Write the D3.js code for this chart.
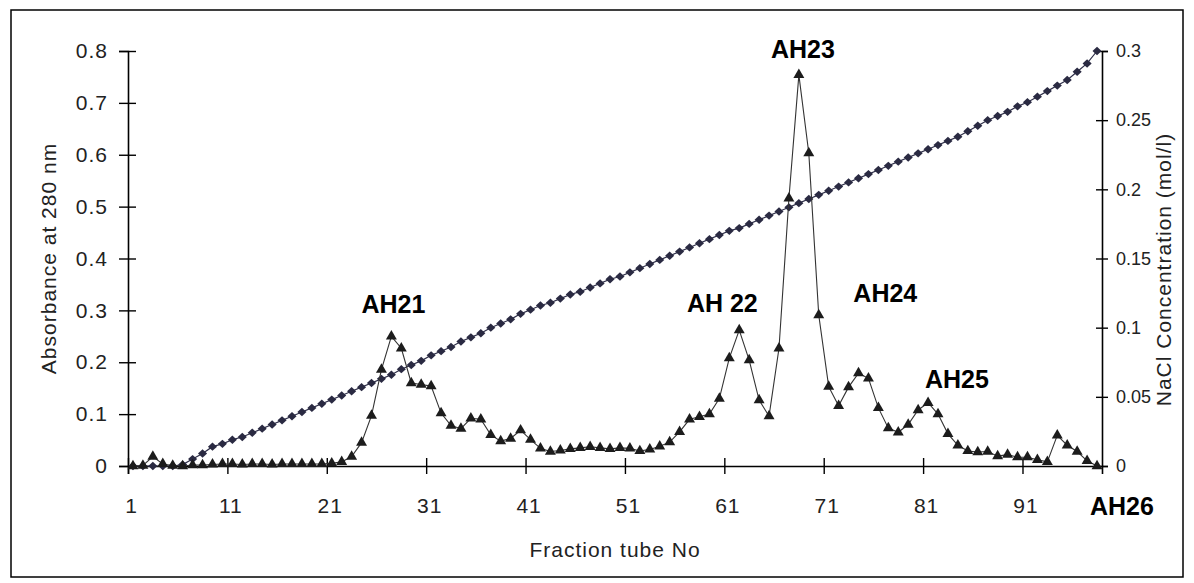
<!DOCTYPE html>
<html>
<head>
<meta charset="utf-8">
<script src="https://cdn.jsdelivr.net/npm/d3@7/dist/d3.min.js"></script>
<style>
  body { margin: 0; background: #fff; }
  svg text { font-family: "Liberation Sans", Arial, sans-serif; }
</style>
</head>
<body>
<div id="chart"></div>
<script>
// absorbance at 280 nm, tubes 1..98
var absorbance = [
  0.000, 0.001, 0.018, 0.004, 0.001, 0.000, 0.002, 0.002, 0.003, 0.004,
  0.004, 0.003, 0.004, 0.004, 0.003, 0.004, 0.004, 0.004, 0.004, 0.004,
  0.005, 0.008, 0.018, 0.045, 0.097, 0.186, 0.250, 0.227, 0.160, 0.157,
  0.154, 0.102, 0.078, 0.072, 0.092, 0.090, 0.060, 0.048, 0.053, 0.069,
  0.051, 0.034, 0.028, 0.030, 0.033, 0.035, 0.037, 0.035, 0.033, 0.035,
  0.034, 0.029, 0.032, 0.038, 0.046, 0.066, 0.090, 0.095, 0.100, 0.130,
  0.208, 0.262, 0.204, 0.127, 0.096, 0.227, 0.516, 0.754, 0.603, 0.291,
  0.153, 0.116, 0.152, 0.179, 0.169, 0.112, 0.073, 0.065, 0.080, 0.108,
  0.122, 0.100, 0.062, 0.040, 0.029, 0.027, 0.028, 0.019, 0.022, 0.017,
  0.017, 0.012, 0.008, 0.059, 0.040, 0.028, 0.010, 0.000
];

// NaCl concentration (mol/l), tubes 1..98
var nacl = [
  0.000, 0.000, 0.000, 0.000, 0.000, 0.001, 0.005, 0.009, 0.014, 0.016,
  0.019, 0.021, 0.024, 0.027, 0.030, 0.033, 0.036, 0.039, 0.042, 0.045,
  0.048, 0.051, 0.054, 0.057, 0.060, 0.063, 0.066, 0.070, 0.073, 0.076,
  0.080, 0.083, 0.086, 0.090, 0.093, 0.096, 0.100, 0.103, 0.106, 0.110,
  0.113, 0.116, 0.118, 0.121, 0.124, 0.126, 0.129, 0.132, 0.135, 0.137,
  0.140, 0.143, 0.146, 0.149, 0.152, 0.155, 0.158, 0.161, 0.164, 0.167,
  0.170, 0.172, 0.175, 0.178, 0.181, 0.184, 0.187, 0.190, 0.193, 0.196,
  0.199, 0.202, 0.205, 0.208, 0.211, 0.214, 0.217, 0.220, 0.223, 0.226,
  0.229, 0.232, 0.235, 0.238, 0.242, 0.246, 0.250, 0.253, 0.256, 0.260,
  0.263, 0.267, 0.271, 0.275, 0.279, 0.285, 0.291, 0.300
];

var tubes = d3.range(1, absorbance.length + 1);
var xTickTubes = [1, 11, 21, 31, 41, 51, 61, 71, 81, 91];
var leftTicks = [0, 0.1, 0.2, 0.3, 0.4, 0.5, 0.6, 0.7, 0.8];
var rightTicks = [0, 0.05, 0.1, 0.15, 0.2, 0.25, 0.3];

// peak names, placed at (tube, absorbance)
var peakNames = ["AH21", "AH 22", "AH23", "AH24", "AH25", "AH26"];
var peakTubes = [26.7, 59.8, 67.9, 76.2, 83.4, 100];
var peakLevels = [0.295, 0.297, 0.786, 0.316, 0.150, -0.094];

var W = 1194, H = 583;
var margin = { top: 51, right: 92, bottom: 117, left: 128 };

var svg = d3.select("#chart").append("svg")
  .attr("width", W)
  .attr("height", H);

// outer frame
svg.append("rect")
  .attr("x", 11).attr("y", 10)
  .attr("width", 1172).attr("height", 567)
  .attr("fill", "none")
  .attr("stroke", "#000")
  .attr("stroke-width", 1.5);

// x is a category axis: each tube takes one slot, point sits in slot centre
var x = d3.scaleLinear().domain([0, tubes.length]).range([margin.left, W - margin.right]);
var yL = d3.scaleLinear().domain([0, 0.8]).range([H - margin.bottom, margin.top]);
var yR = d3.scaleLinear().domain([0, 0.3]).range([H - margin.bottom, margin.top]);
var cx = function(t) { return x(t - 0.5); };

var font = 21;

// left axis
var gL = svg.append("g")
  .attr("transform", "translate(" + margin.left + ",0)")
  .call(d3.axisLeft(yL).tickValues(leftTicks).tickSize(9).tickPadding(11)
    .tickFormat(function(d) { return d === 0 ? "0" : d3.format(".1f")(d); }));
gL.selectAll(".tick line").attr("x1", 8);

// right axis
var gR = svg.append("g")
  .attr("transform", "translate(" + (W - margin.right) + ",0)")
  .call(d3.axisRight(yR).tickValues(rightTicks).tickSize(6).tickPadding(8)
    .tickFormat(function(d) { return d === 0 ? "0" : String(+d.toFixed(2)); }));
gR.selectAll(".tick line").attr("x1", -6);

// bottom axis: tick marks on slot boundaries, labels near slot start
var gB = svg.append("g")
  .attr("transform", "translate(0," + (H - margin.bottom) + ")")
  .call(d3.axisBottom(x).tickValues(xTickTubes.map(function(t) { return t - 1; }))
    .tickSize(8).tickPadding(24).tickFormat(function(d) { return d + 1; }));
gB.selectAll(".tick line").attr("y1", -8);
gB.selectAll(".tick text").attr("dx", 3);

[gL, gR, gB].forEach(function(g) {
  g.select(".domain").attr("stroke", "#000").attr("stroke-width", 1.6);
  g.selectAll(".tick line").attr("stroke", "#000").attr("stroke-width", 1.4);
  g.selectAll(".tick text")
    .attr("fill", "#222")
    .style("font-size", font + "px")
    .style("letter-spacing", "1px")
    .style("font-family", "'Liberation Sans', Arial, sans-serif");
});
gR.selectAll(".tick text")
  .style("font-size", "18px")
  .style("letter-spacing", "0px");

// axis titles
svg.append("text")
  .attr("transform", "translate(56," + yL(0.4) + ") rotate(-90)")
  .attr("text-anchor", "middle")
  .attr("fill", "#222")
  .style("font-size", font + "px")
  .style("letter-spacing", "1px")
  .text("Absorbance at 280 nm");

svg.append("text")
  .attr("transform", "translate(1171," + yR(0.142) + ") rotate(-90)")
  .attr("text-anchor", "middle")
  .attr("fill", "#222")
  .style("font-size", font + "px")
  .style("letter-spacing", "1px")
  .text("NaCl Concentration (mol/l)");

svg.append("text")
  .attr("x", (x(0) + x(tubes.length)) / 2)
  .attr("y", 557)
  .attr("text-anchor", "middle")
  .attr("fill", "#222")
  .style("font-size", font + "px")
  .style("letter-spacing", "1px")
  .text("Fraction tube No");

// NaCl gradient
var naclLine = d3.line()
  .x(function(d, i) { return cx(tubes[i]); })
  .y(function(d) { return yR(d); });

svg.append("path")
  .datum(nacl)
  .attr("fill", "none")
  .attr("stroke", "#2e2e48")
  .attr("stroke-width", 1.2)
  .attr("d", naclLine);

svg.selectAll(".nacl")
  .data(nacl)
  .enter().append("path")
  .attr("class", "nacl")
  .attr("transform", function(d, i) { return "translate(" + cx(tubes[i]) + "," + yR(d) + ") scale(1.6,0.85)"; })
  .attr("d", d3.symbol().type(d3.symbolDiamond).size(28))
  .attr("fill", "#2a2a42");

// absorbance
var absLine = d3.line()
  .x(function(d, i) { return cx(tubes[i]); })
  .y(function(d) { return yL(d); });

svg.append("path")
  .datum(absorbance)
  .attr("fill", "none")
  .attr("stroke", "#333")
  .attr("stroke-width", 1.1)
  .attr("d", absLine);

svg.selectAll(".abs")
  .data(absorbance)
  .enter().append("path")
  .attr("class", "abs")
  .attr("transform", function(d, i) { return "translate(" + cx(tubes[i]) + "," + yL(d) + ")"; })
  .attr("d", d3.symbol().type(d3.symbolTriangle).size(52))
  .attr("fill", "#1c1c1c");

// peak names
svg.selectAll(".peak")
  .data(peakNames)
  .enter().append("text")
  .attr("class", "peak")
  .attr("x", function(d, i) { return x(peakTubes[i]); })
  .attr("y", function(d, i) { return yL(peakLevels[i]); })
  .attr("text-anchor", "middle")
  .attr("fill", "#000")
  .style("font-size", "25px")
  .style("font-weight", "bold")
  .text(function(d) { return d; });
</script>
</body>
</html>
